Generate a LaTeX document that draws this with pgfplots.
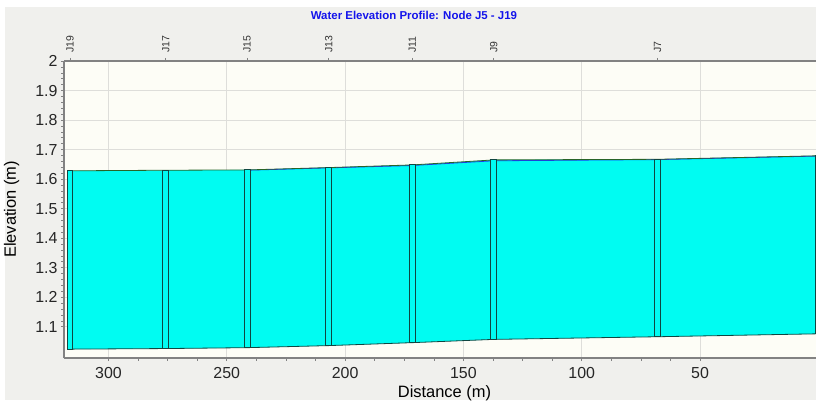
\documentclass[border=0pt]{standalone}
\usepackage{fontspec}
\setmainfont{Liberation Sans}
\usepackage{pgfplots}
\pgfplotsset{compat=1.18}

\definecolor{panelbg}{RGB}{240,240,237}
\definecolor{plotbg}{RGB}{253,253,246}
\definecolor{gridc}{RGB}{222,222,218}
\definecolor{axc}{RGB}{130,130,130}
\definecolor{water}{RGB}{0,252,242}
\definecolor{boxc}{RGB}{15,70,65}
\definecolor{titlec}{RGB}{20,20,235}
\definecolor{topc}{RGB}{40,100,40}
\definecolor{wline}{RGB}{30,60,240}

\begin{document}
\begin{tikzpicture}
\fill[white] (0,0) rectangle (816bp,403bp);
\fill[panelbg] (5bp,3bp) rectangle (816bp,396bp);
\begin{axis}[
  at={(64bp,45bp)}, anchor=south west,
  scale only axis, width=752bp, height=297bp,
  x dir=reverse, xmin=1, xmax=318.8, ymin=0.994, ymax=2,
  xtick={50,100,150,200,250,300},
  ytick={1.1,1.2,1.3,1.4,1.5,1.6,1.7,1.8,1.9,2},
  minor x tick num=3, minor y tick num=4,
  axis x line*=bottom, axis y line*=left,
  axis line style={draw=axc, line width=1.6bp},
  tick align=outside, major tick length=3bp, minor tick length=2.5bp,
  every tick/.style={draw=axc, line width=0.6bp},
  grid=major, major grid style={draw=gridc, line width=1bp},
  axis background/.style={fill=plotbg},
  tick label style={font=\fontsize{16}{18}\selectfont, text=black!85},
  xticklabel style={yshift=-3bp},
  /pgf/number format/assume math mode=true,
  xlabel={Distance (m)}, ylabel={Elevation (m)},
  label style={font=\fontsize{16.5}{19}\selectfont},
  xlabel style={at={(axis description cs:0.5,0)}, anchor=center, xshift=4.5bp, yshift=-35bp},
  ylabel style={at={(axis description cs:-0.0698,0.5)}, anchor=center},
  title={Water Elevation Profile: Node J5 - J19},
  title style={font=\bfseries\fontsize{11.5}{13}\selectfont, text=titlec, at={(axis description cs:0.4654,1)}, anchor=center, yshift=40bp},
]
% water body between node tops and pipe inverts
\addplot[fill=water, draw=none] coordinates {
  (317.4,1.628) (275.8,1.630) (241.4,1.631) (206.9,1.639) (171.6,1.648) (137.2,1.665) (68.0,1.667) (0,1.679)
  (0,1.076) (68.0,1.066) (137.2,1.057) (171.6,1.046) (206.9,1.036) (241.4,1.029) (275.8,1.026) (317.4,1.024)
} -- cycle;
% bottom (invert) line
\addplot[boxc, line width=0.8bp] coordinates {
  (317.4,1.024) (275.8,1.026) (241.4,1.029) (206.9,1.036) (171.6,1.046) (137.2,1.057) (68.0,1.066) (0,1.076)
};
% water surface (blue)
\addplot[wline, line width=0.8bp] coordinates {
  (241.4,1.630) (206.9,1.638) (171.6,1.646) (137.2,1.662) (68.0,1.666) (0,1.678)
};
% top line (dark green)
\addplot[topc, line width=0.8bp] coordinates {
  (317.4,1.628) (275.8,1.630) (241.4,1.631) (206.9,1.639) (171.6,1.648) (137.2,1.665) (68.0,1.667) (0,1.679)
};
% node boxes
\addplot[fill=water, draw=boxc, line width=0.9bp] coordinates {(315.1,1.024) (317.4,1.024) (317.4,1.628) (315.1,1.628)} -- cycle;
\addplot[fill=water, draw=boxc, line width=0.9bp] coordinates {(274.6,1.026) (277.0,1.026) (277.0,1.630) (274.6,1.630)} -- cycle;
\addplot[fill=water, draw=boxc, line width=0.9bp] coordinates {(240.2,1.029) (242.6,1.029) (242.6,1.631) (240.2,1.631)} -- cycle;
\addplot[fill=water, draw=boxc, line width=0.9bp] coordinates {(205.7,1.036) (208.1,1.036) (208.1,1.639) (205.7,1.639)} -- cycle;
\addplot[fill=water, draw=boxc, line width=0.9bp] coordinates {(170.4,1.046) (172.8,1.046) (172.8,1.648) (170.4,1.648)} -- cycle;
\addplot[fill=water, draw=boxc, line width=0.9bp] coordinates {(136.0,1.057) (138.4,1.057) (138.4,1.665) (136.0,1.665)} -- cycle;
\addplot[fill=water, draw=boxc, line width=0.9bp] coordinates {(66.8,1.066) (69.2,1.066) (69.2,1.667) (66.8,1.667)} -- cycle;
\addplot[fill=water, draw=boxc, line width=0.9bp] coordinates {(-1.2,1.076) (1.2,1.076) (1.2,1.679) (-1.2,1.679)} -- cycle;
\end{axis}
\begin{axis}[
  at={(64bp,45bp)}, anchor=south west,
  scale only axis, width=752bp, height=297bp,
  x dir=reverse, xmin=1, xmax=318.8, ymin=0.994, ymax=2,
  axis x line*=top, hide y axis,
  axis line style={draw=axc, line width=1.6bp},
  xtick={316.2,275.8,241.4,206.9,171.6,137.2,68.0},
  xticklabels={J19,J17,J15,J13,J11,J9,J7},
  tick align=outside, major tick length=3bp,
  every tick/.style={draw=axc, line width=0.6bp},
  xticklabel style={rotate=90, anchor=west, xshift=2bp, font=\fontsize{10.5}{12}\selectfont, text=black!80},
]
\addplot[draw=none] coordinates {(100,1.5)};
\end{axis}
\pgfresetboundingbox
\useasboundingbox (0,0) rectangle (816bp,403bp);
\end{tikzpicture}
\end{document}
